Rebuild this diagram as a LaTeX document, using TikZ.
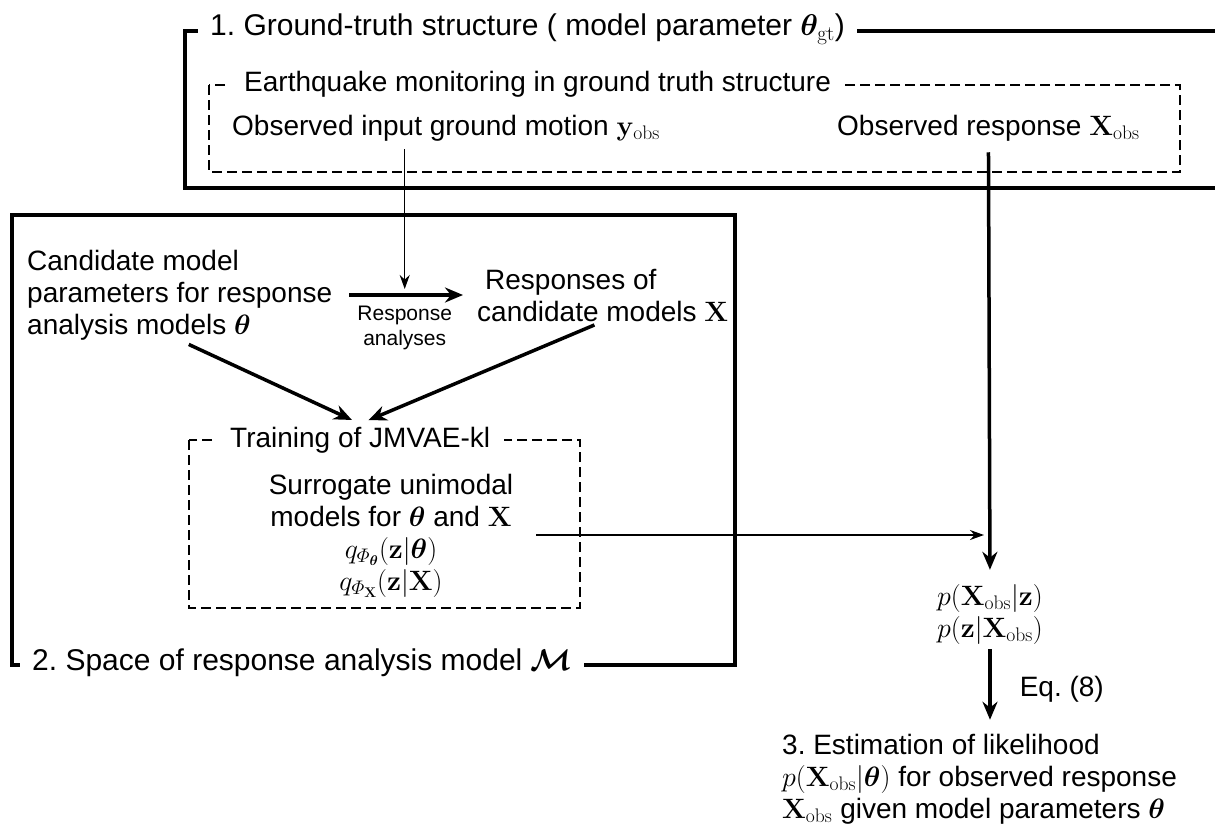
\RequirePackage{fix-cm}
\documentclass[tikz,border=0pt]{standalone}
\usepackage{amsmath}
\usepackage{amssymb}
\usepackage{bm}
\usepackage[no-math]{fontspec}
\setmainfont{Liberation Sans}
\usetikzlibrary{arrows.meta}
\frenchspacing

\tikzset{
  body/.style={font=\fontsize{28}{32}\selectfont, inner sep=0pt},
  ttl/.style={font=\fontsize{30}{34}\selectfont, fill=white, inner xsep=12pt, inner ysep=3pt, anchor=west},
  subttl/.style={font=\fontsize{28}{32}\selectfont, fill=white, inner xsep=14pt, inner ysep=3pt, anchor=west},
  note/.style={font=\fontsize{21}{25}\selectfont, inner sep=0pt, align=center},
  boxline/.style={line width=4pt},
  dashline/.style={line width=2pt, dash pattern=on 10pt off 5pt},
  bigarrow/.style={line width=3.5pt, -{Stealth[length=18pt,width=15pt]}},
  thinarrow/.style={line width=1.5pt, -{Stealth[length=14pt,width=10pt]}},
}

\begin{document}
\begin{tikzpicture}[x=1pt,y=-1pt]
\useasboundingbox (0,0) rectangle (1215,825);
% frames
\draw[boxline] (1215,31) -- (185,31) -- (185,188) -- (1215,188);
\draw[dashline] (209,85) rectangle (1180,172);
\draw[boxline] (12,215) rectangle (735,665);
\draw[dashline] (189,440) rectangle (580,608);
% frame titles
\node[ttl] (gt) at (198,29) {1. Ground-truth structure ( model parameter $\bm{\theta}_{\mathrm{gt}}$)};
\node[subttl] (eqk) at (230,84) {Earthquake monitoring in ground truth structure};
\node[ttl] (space) at (20,663) {2. Space of response analysis model $\bm{\mathcal{M}}$};
\node[subttl] (train) at (216,440) {Training of JMVAE-kl};
% texts
\node[body, anchor=west] (yobs) at (232,128) {Observed input ground motion $\mathbf{y}_{\mathrm{obs}}$};
\node[body, anchor=west] (xobs) at (837,128) {Observed response $\mathbf{X}_{\mathrm{obs}}$};
\node[body, anchor=west, align=left] (cand) at (27,295) {Candidate model\\parameters for response\\analysis models $\bm{\theta}$};
\node[body, anchor=west, align=left] (resp) at (477,295) {\hspace*{8pt}Responses of\\candidate models $\mathbf{X}$};
\node[body, align=center] (surr) at (391,536) {Surrogate unimodal\\models for $\bm{\theta}$ and $\mathbf{X}$\\$q_{\varPhi_{\bm{\theta}}}(\mathbf{z}|\bm{\theta})$\\$q_{\varPhi_{\mathbf{X}}}(\mathbf{z}|\mathbf{X})$};
\node[body, align=center] (pz) at (990,614) {$p(\mathbf{X}_{\mathrm{obs}}|\mathbf{z})$\\$p(\mathbf{z}|\mathbf{X}_{\mathrm{obs}})$};
\node[body, anchor=west, align=left] (est) at (782,779) {3. Estimation of likelihood\\$p(\mathbf{X}_{\mathrm{obs}}|\bm{\theta})$ for observed response\\$\mathbf{X}_{\mathrm{obs}}$ given model parameters $\bm{\theta}$};
\coordinate (zin) at (984,535);
% connectors
\draw[bigarrow, shorten <=17pt, shorten >=14pt] (cand.east) -- coordinate (ramid) node[note, below=9pt] (ralbl) {Response\\analyses} (resp.west);
\draw[thinarrow, shorten <=8pt, shorten >=6pt] (yobs.south -| ramid) -- (ramid);
\draw[bigarrow, shorten <=10pt, shorten >=9pt] (cand.south) -- (train.north);
\draw[bigarrow, shorten <=9pt, shorten >=9pt] (resp.south) -- (train.north);
\draw[bigarrow, shorten <=11pt, shorten >=14pt] (xobs.south) -- (pz.north);
\draw[thinarrow, shorten <=23pt] (surr.east |- zin) -- (zin);
\draw[bigarrow, shorten <=5pt, shorten >=14pt] (pz.south) -- (pz.south |- est.north) node[body, midway, right=28pt] (eq) {Eq. (8)};
\end{tikzpicture}
\end{document}
